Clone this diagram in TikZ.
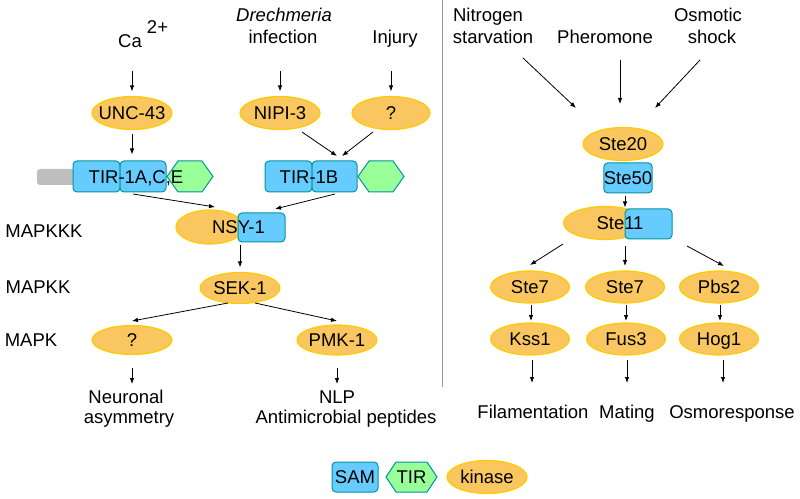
\documentclass[tikz,border=0pt]{standalone}
\usepackage{fontspec}
\setmainfont{Liberation Sans}
\usetikzlibrary{shapes.geometric,arrows.meta,calc}
\definecolor{kinfill}{RGB}{250,198,95}
\definecolor{kinline}{RGB}{255,204,0}
\definecolor{samfill}{RGB}{102,204,255}
\definecolor{samline}{RGB}{0,150,160}
\definecolor{tirfill}{RGB}{153,255,153}
\definecolor{greybar}{RGB}{190,190,190}
\definecolor{divider}{RGB}{150,150,150}
\newcommand{\kintext}[1]{\makebox[0pt]{#1}}
\begin{document}
\begin{tikzpicture}[x=1bp,y=-1bp,
  font=\fontsize{18.5bp}{22bp}\selectfont,
  lbl/.style={inner sep=0pt, text height=13.2bp, text depth=0pt},
  kin/.style={ellipse, fill=kinfill, draw=kinline, line width=1.2bp, minimum width=80bp, minimum height=33bp, inner sep=0pt, text height=13.2bp, text depth=0pt},
  sam/.style={rectangle, rounded corners=4bp, fill=samfill, draw=samline, line width=1bp, inner sep=0pt, minimum height=31bp, text height=13.2bp, text depth=0pt},
  tir/.style={fill=tirfill, draw=samline, line width=1bp},
  arr/.style={-{Latex[length=6bp,width=4.5bp]}, line width=0.8bp},
]
\useasboundingbox (0,0) rectangle (800,499);

% ---------- left panel: inputs ----------
\node[lbl, anchor=base west] (ca) at (118,48) {Ca \raisebox{14bp}{2+}};
\node[lbl] (drech) at (284,15) {\textit{Drechmeria}};
\node[lbl] (infect) at (283,37) {infection};
\node[lbl] (injury) at (395,37) {Injury};

\node[kin] (unc43) at (132,113) {\kintext{UNC-43}};
\node[kin] (nipi3) at (280,113) {\kintext{NIPI-3}};
\node[kin, minimum width=78bp] (injq) at (391,113) {\kintext{?}};

\draw[arr] ([yshift=24.5bp]unc43.north) -- ([yshift=4.5bp]unc43.north);
\draw[arr] ([yshift=24.5bp]nipi3.north) -- ([yshift=4.5bp]nipi3.north);
\draw[arr] ([yshift=24.5bp]injq.north) -- ([yshift=4.5bp]injq.north);

% ---------- TIR-1A,C,E ----------
\fill[greybar, rounded corners=3bp] (37,169) rectangle (78,185);
\node[sam, minimum width=47bp] (tirAa) at (96.5,176.5) {};
\node[sam, minimum width=46bp] (tirAb) at (143,176.5) {};
\draw[tir] (167,176.5) -- ++(11,-15.5) -- ++(24,0) -- ++(11,15.5) -- ++(-11,15.5) -- ++(-24,0) -- cycle;
\node[lbl] (tirAt) at (136,176.5) {TIR-1A,C,E};

% ---------- TIR-1B ----------
\node[sam, minimum width=47bp] (tirBa) at (288.5,176.5) {};
\node[sam, minimum width=45bp] (tirBb) at (334.5,176.5) {};
\draw[tir] (358,176.5) -- ++(11,-15.5) -- ++(24,0) -- ++(11,15.5) -- ++(-11,15.5) -- ++(-24,0) -- cycle;
\node[lbl] (tirBt) at (309,176.5) {TIR-1B};

\draw[arr] ([yshift=-3.5bp]unc43.south) -- ([yshift=6bp]unc43.south |- tirAb.north);
\draw[arr] ($(nipi3)+(22,19)$) -- ($(tirBb)+(2.5,-20.5)$);
\draw[arr] ($(injq)+(-18,19)$) -- ($(tirBb)+(7.5,-20.5)$);

% ---------- NSY-1 ----------
\node[kin, minimum width=68bp, minimum height=34bp] (nsyE) at (210,227) {};
\node[sam, minimum width=47bp, minimum height=29bp] (nsyB) at (261.5,227.5) {};
\node[lbl] (nsyT) at (238.5,227) {NSY-1};
\draw[arr] ($(tirAb)+(-10,17.5)$) -- ($(nsyE)+(5,-20)$);
\draw[arr] ($(tirBb)+(0.5,17.5)$) -- ($(nsyB)+(13.5,-18.5)$);

\node[lbl] (mapkkk) at (44,231) {MAPKKK};
\node[lbl] (mapkk) at (38,287) {MAPKK};
\node[lbl] (mapk) at (31,340) {MAPK};

\node[kin, minimum height=31bp] (sek) at (240,288) {\kintext{SEK-1}};
\draw[arr] ([yshift=-3bp]sek.north |- nsyB.south) -- ([yshift=4.5bp]sek.north);

\node[kin, minimum height=29bp] (mapq) at (132,340) {\kintext{?}};
\node[kin, minimum height=30bp] (pmk) at (337,340) {\kintext{PMK-1}};
\draw[arr] ($(sek)+(-12,15)$) -- ($(mapq)+(0,-19)$);
\draw[arr] ($(sek)+(15,15)$) -- ($(pmk)+(0,-19)$);

\node[lbl] (neur) at (126,397) {Neuronal};
\node[lbl] (asym) at (129,417) {asymmetry};
\node[lbl] (nlp) at (337,397) {NLP};
\node[lbl] (amp) at (346,417) {Antimicrobial peptides};
\draw[arr] ($(mapq)+(0,28)$) -- ($(mapq)+(0,44)$);
\draw[arr] ($(pmk)+(0,28)$) -- ($(pmk)+(0,44)$);

% ---------- divider ----------
\draw[divider, line width=1bp] (442,0) coordinate (divtop) -- (442,387) coordinate (divbot);

% ---------- right panel ----------
\node[lbl] (nitro) at (488,15) {Nitrogen};
\node[lbl] (starv) at (493,37) {starvation};
\node[lbl] (pher) at (605,37) {Pheromone};
\node[lbl] (osmo) at (708,15) {Osmotic};
\node[lbl] (shock) at (712,37) {shock};

\node[kin] (ste20) at (623,144) {\kintext{Ste20}};
\draw[arr] ($(starv)+(30,21)$) -- ($(ste20)+(-47,-36)$);
\draw[arr] ($(ste20)+(-3,-84)$) -- ($(ste20)+(-3,-40)$);
\draw[arr] ($(shock)+(-12,23)$) -- ($(ste20)+(32,-36)$);

\node[sam, minimum width=48bp, minimum height=30bp] (ste50) at (628,178) {Ste50};

\node[kin, minimum width=83bp] (ste11E) at (605,223) {};
\node[sam, minimum width=47bp, minimum height=30bp] (ste11B) at (648.5,224) {};
\node[lbl] (ste11T) at (620,223) {Ste11};
\draw[arr] ($(ste50)+(-3,18)$) -- ($(ste50)+(-3,29.5)$);

\node[kin, minimum width=79bp, minimum height=32bp] (ste7a) at (530,287) {\kintext{Ste7}};
\node[kin, minimum width=79bp, minimum height=32bp] (ste7b) at (625,287) {\kintext{Ste7}};
\node[kin, minimum width=79bp, minimum height=32bp] (pbs2) at (719,287) {\kintext{Pbs2}};
\draw[arr] ($(ste11E)+(-42,21)$) -- ($(ste7a)+(0,-22)$);
\draw[arr] ($(ste7b)+(0,-41)$) -- ($(ste7b)+(0,-21)$);
\draw[arr] ($(ste11B)+(38.5,22)$) -- ($(pbs2)+(5,-21)$);

\node[kin, minimum width=79bp, minimum height=32bp] (kss1) at (530,339) {\kintext{Kss1}};
\node[kin, minimum width=79bp, minimum height=32bp] (fus3) at (626,339) {\kintext{Fus3}};
\node[kin, minimum width=79bp, minimum height=32bp] (hog1) at (719,339) {\kintext{Hog1}};
\draw[arr] ($(ste7a)+(1,18)$) -- ($(kss1)+(1,-18)$);
\draw[arr] ($(ste7b)+(1,18)$) -- ($(fus3)+(0,-18)$);
\draw[arr] ($(pbs2)+(1,18)$) -- ($(hog1)+(1,-18)$);

\node[lbl] (filam) at (533,412) {Filamentation};
\node[lbl] (mating) at (627,412) {Mating};
\node[lbl] (osmor) at (732,412) {Osmoresponse};
\draw[arr] ($(kss1)+(2,21)$) -- ($(kss1)+(2,44)$);
\draw[arr] ($(fus3)+(1,21)$) -- ($(fus3)+(1,44)$);
\draw[arr] ($(hog1)+(4,21)$) -- ($(hog1)+(4,44)$);

% ---------- legend ----------
\node[sam, minimum width=46bp, minimum height=30bp] (legsam) at (355,477) {SAM};
\draw[tir] (386,477) -- ++(10,-15) -- ++(31,0) -- ++(10,15) -- ++(-10,15) -- ++(-31,0) -- cycle;
\node[lbl] (legtir) at (411.5,477) {TIR};
\node[kin] (legkin) at (487,477) {\kintext{kinase}};
\end{tikzpicture}
\end{document}
